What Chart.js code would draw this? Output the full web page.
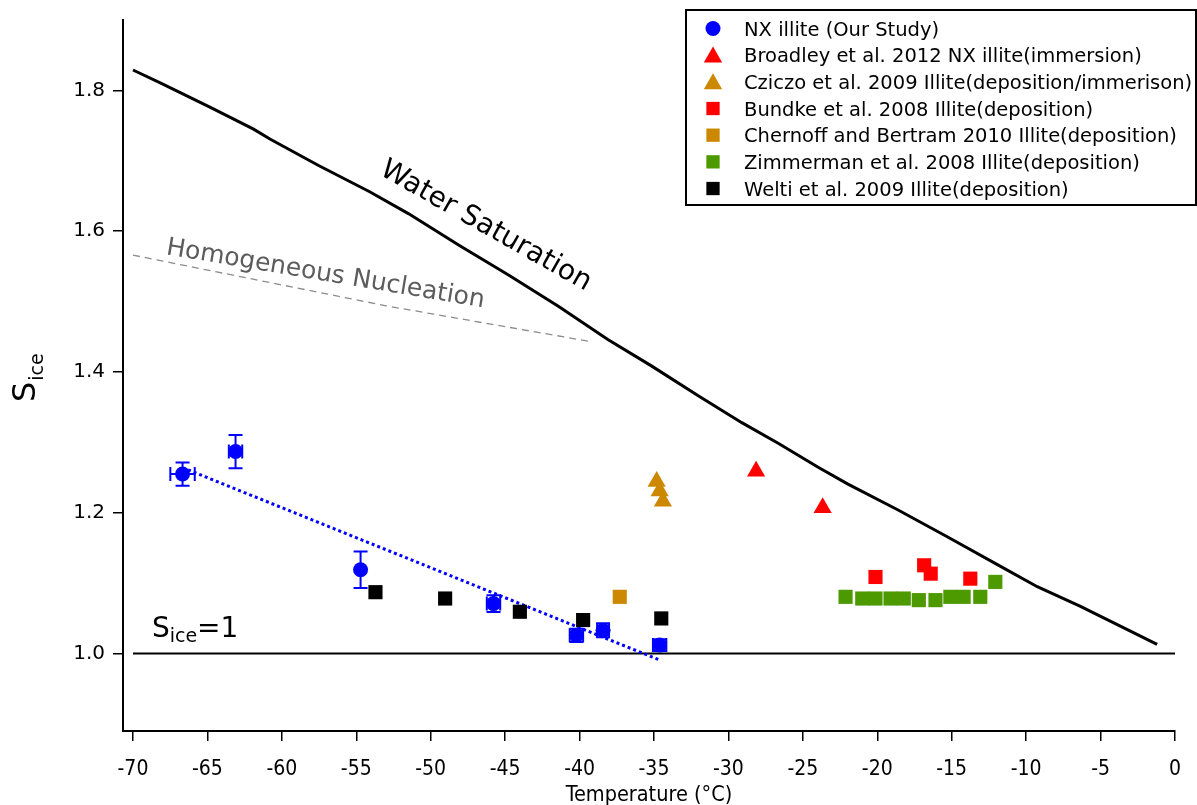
<!DOCTYPE html>
<html>
<head>
<meta charset="utf-8">
<title>Ice nucleation onset on illite</title>
<script src="https://cdn.jsdelivr.net/npm/chart.js@4.4.1/dist/chart.umd.min.js"></script>
<style>
  html, body { margin: 0; padding: 0; background: #ffffff; }
  #wrap { width: 1197px; height: 805px; position: relative; }
</style>
</head>
<body>
<div id="wrap"><canvas id="chart" width="1197" height="805"></canvas></div>
<script>
// ---- axis ticks ----
const tempTicks = [-70, -65, -60, -55, -50, -45, -40, -35, -30, -25, -20, -15, -10, -5, 0];
const sIceTicks = [1.0, 1.2, 1.4, 1.6, 1.8];

// ---- reference curves ----
const waterSatT = [-70.0, -68.2, -64.8, -61.9, -60.8, -57.5, -54.1, -51.5, -48.1, -44.8, -41.4, -38.1, -35.2, -32.0, -29.1, -26.6, -24.0, -22.0, -18.6, -15.3, -11.9, -9.25, -6.35, -3.2, -1.2];
const waterSatS = [1.829, 1.811, 1.776, 1.745, 1.731, 1.693, 1.656, 1.625, 1.580, 1.538, 1.493, 1.446, 1.409, 1.366, 1.328, 1.298, 1.265, 1.241, 1.204, 1.166, 1.126, 1.095, 1.067, 1.034, 1.013];
const homNucT = [-70.0, -53.0, -39.2];
const homNucS = [1.566, 1.494, 1.443];
const unityT = [-70, 0];
const unityS = [1, 1];

// ---- NX illite (this study) with uncertainties ----
const nxT    = [-66.67, -63.11, -54.71, -45.78, -40.21, -38.42, -34.62];
const nxS    = [1.255, 1.287, 1.119, 1.071, 1.026, 1.033, 1.012];
const nxErrS = [0.0165, 0.0236, 0.026, 0.0118, 0.0094, 0.0099, 0.0082];
const nxErrT = [0.82, 0.45, 0, 0.45, 0.45, 0.4, 0.45];
const nxFitT = [-66.3, -34.7];
const nxFitS = [1.261, 0.9915];

// ---- literature data ----
const broadleyT   = [-28.14, -23.67];
const broadleyS   = [1.259, 1.207];
const cziczoT     = [-34.82, -34.62, -34.40];
const cziczoS     = [1.2445, 1.231, 1.2164];
const bundkeT     = [-20.12, -16.85, -16.41, -13.75];
const bundkeS     = [1.1088, 1.1254, 1.1135, 1.1064];
const chernoffT   = [-37.30];
const chernoffS   = [1.0806];
const zimmermanT  = [-22.13, -21.01, -20.12, -19.11, -18.22, -17.21, -16.09, -15.09, -14.20, -13.08, -12.07];
const zimmermanS  = [1.0806, 1.0782, 1.0782, 1.0782, 1.0782, 1.0759, 1.0759, 1.0806, 1.0806, 1.0806, 1.1018];
const weltiT      = [-53.71, -49.03, -44.01, -39.76, -34.51];
const weltiS      = [1.0872, 1.0782, 1.0594, 1.0476, 1.0499];

const BLUE = '#0000ff', RED = '#ff0000', ORANGE = '#cc8800', GREEN = '#4c9900', BLACK = '#000000';
const FONT = '"DejaVu Sans", "Lucida Grande", Verdana, sans-serif';
const NARROW = '"Liberation Sans Narrow", "DejaVu Sans Condensed", "Arial Narrow", sans-serif';

const pts = (xs, ys) => xs.map((x, i) => ({ x: x, y: ys[i] }));

function markers(label, xs, ys, color, style, radius) {
  return {
    label: label, data: pts(xs, ys), showLine: false,
    pointStyle: style, pointRadius: radius, pointHoverRadius: radius,
    backgroundColor: color, borderColor: color, borderWidth: 0,
    inLegend: true
  };
}
function curve(label, xs, ys, color, width, dash) {
  return {
    label: label, data: pts(xs, ys), showLine: true, pointRadius: 0, pointHoverRadius: 0,
    borderColor: color, borderWidth: width, borderDash: dash || [], fill: false, tension: 0,
    inLegend: false
  };
}

const datasets = [
  Object.assign(markers('NX illite (Our Study)', nxT, nxS, BLUE, 'circle', 7.5), { errS: nxErrS, errT: nxErrT }),
  markers('Broadley et al. 2012 NX illite(immersion)', broadleyT, broadleyS, RED, 'triangle', 10.5),
  markers('Cziczo et al. 2009 Illite(deposition/immerison)', cziczoT, cziczoS, ORANGE, 'triangle', 10.5),
  markers('Bundke et al. 2008 Illite(deposition)', bundkeT, bundkeS, RED, 'rect', 10),
  markers('Chernoff and Bertram 2010 Illite(deposition)', chernoffT, chernoffS, ORANGE, 'rect', 10),
  markers('Zimmerman et al. 2008 Illite(deposition)', zimmermanT, zimmermanS, GREEN, 'rect', 10),
  markers('Welti et al. 2009 Illite(deposition)', weltiT, weltiS, BLACK, 'rect', 10),
  curve('NX illite fit', nxFitT, nxFitS, BLUE, 3, [3, 3]),
  curve('Water Saturation', waterSatT, waterSatS, BLACK, 3),
  curve('Homogeneous Nucleation', homNucT, homNucS, '#8c8c8c', 1.3, [7, 5]),
  curve('Sice=1', unityT, unityS, BLACK, 2)
];

// error bars for datasets that carry errS / errT
const errorBars = {
  id: 'errorBars',
  afterDatasetsDraw(chart) {
    const ctx = chart.ctx, xs = chart.scales.x, ys = chart.scales.y;
    chart.data.datasets.forEach(ds => {
      if (!ds.errS) return;
      ctx.save();
      ctx.strokeStyle = ds.borderColor;
      ctx.lineWidth = 2;
      ds.data.forEach((p, i) => {
        const px = xs.getPixelForValue(p.x), py = ys.getPixelForValue(p.y);
        const cap = 7;
        if (ds.errS[i] > 0) {
          const y1 = ys.getPixelForValue(p.y + ds.errS[i]);
          const y2 = ys.getPixelForValue(p.y - ds.errS[i]);
          ctx.beginPath();
          ctx.moveTo(px, y1); ctx.lineTo(px, y2);
          ctx.moveTo(px - cap, y1); ctx.lineTo(px + cap, y1);
          ctx.moveTo(px - cap, y2); ctx.lineTo(px + cap, y2);
          ctx.stroke();
        }
        if (ds.errT[i] > 0) {
          const x1 = xs.getPixelForValue(p.x - ds.errT[i]);
          const x2 = xs.getPixelForValue(p.x + ds.errT[i]);
          ctx.beginPath();
          ctx.moveTo(x1, py); ctx.lineTo(x2, py);
          ctx.moveTo(x1, py - cap); ctx.lineTo(x1, py + cap);
          ctx.moveTo(x2, py - cap); ctx.lineTo(x2, py + cap);
          ctx.stroke();
        }
      });
      ctx.restore();
    });
  }
};

// text labels on the plot and axis titles
const annotations = {
  id: 'annotations',
  afterDraw(chart) {
    const ctx = chart.ctx, xs = chart.scales.x, ys = chart.scales.y, area = chart.chartArea;
    ctx.save();

    // Water Saturation
    ctx.save();
    ctx.translate(xs.getPixelForValue(-46.54), ys.getPixelForValue(1.598));
    ctx.rotate(29.5 * Math.PI / 180);
    ctx.font = '28px ' + FONT;
    ctx.fillStyle = '#000';
    ctx.textAlign = 'center';
    ctx.textBaseline = 'alphabetic';
    ctx.fillText('Water Saturation', 0, 0);
    ctx.restore();

    // Homogeneous Nucleation
    ctx.save();
    ctx.translate(xs.getPixelForValue(-57.14), ys.getPixelForValue(1.5296));
    ctx.rotate(9.5 * Math.PI / 180);
    ctx.font = '25px ' + FONT;
    ctx.fillStyle = '#5c5c5c';
    ctx.textAlign = 'center';
    ctx.textBaseline = 'alphabetic';
    ctx.fillText('Homogeneous Nucleation', 0, 0);
    ctx.restore();

    // S_ice = 1
    ctx.fillStyle = '#000';
    ctx.textAlign = 'left';
    ctx.textBaseline = 'alphabetic';
    let x0 = xs.getPixelForValue(-68.73), y0 = ys.getPixelForValue(1.024);
    ctx.font = '28px ' + FONT;
    ctx.fillText('S', x0, y0);
    x0 += ctx.measureText('S').width;
    ctx.font = '19px ' + FONT;
    ctx.fillText('ice', x0, y0 + 5);
    x0 += ctx.measureText('ice').width;
    ctx.font = '28px ' + FONT;
    ctx.fillText('=1', x0, y0);

    // y-axis title S_ice (rotated)
    ctx.save();
    ctx.translate(35, 402);
    ctx.rotate(-Math.PI / 2);
    ctx.font = '32px ' + FONT;
    ctx.fillText('S', 0, 0);
    const sw = ctx.measureText('S').width;
    ctx.font = '19px ' + FONT;
    ctx.fillText('ice', sw + 1, 8);
    ctx.restore();

    // x-axis title
    ctx.font = '21.5px ' + NARROW;
    ctx.textAlign = 'center';
    ctx.textBaseline = 'middle';
    ctx.fillText('Temperature (°C)', (area.left + area.right) / 2, 795);

    ctx.restore();
  }
};

// boxed legend in the upper right
const legendBox = {
  id: 'legendBox',
  afterDraw(chart) {
    const ctx = chart.ctx;
    const items = chart.data.datasets.filter(d => d.inLegend);
    const left = 686, top = 10, right = 1196, bottom = 205;
    ctx.save();
    ctx.fillStyle = '#fff';
    ctx.fillRect(left, top, right - left, bottom - top);
    ctx.strokeStyle = '#000';
    ctx.lineWidth = 2;
    ctx.strokeRect(left, top, right - left, bottom - top);
    ctx.font = '19.5px ' + FONT;
    ctx.textAlign = 'left';
    ctx.textBaseline = 'alphabetic';
    items.forEach((d, i) => {
      const cy = 28.5 + i * 26.67;
      const r = d.pointStyle === 'circle' ? 7.5 : (d.pointStyle === 'triangle' ? 10.6 : 9.4);
      const yOff = d.pointStyle === 'triangle' ? 2 : 0;
      ctx.fillStyle = d.backgroundColor;
      ctx.strokeStyle = d.borderColor;
      Chart.helpers.drawPoint(ctx, { pointStyle: d.pointStyle, radius: r, rotation: 0, borderWidth: 0 }, 713, cy + yOff);
      ctx.fillStyle = '#000';
      ctx.fillText(d.label, 744, cy + 7.3);
    });
    ctx.restore();
  }
};

new Chart(document.getElementById('chart').getContext('2d'), {
  type: 'scatter',
  data: { datasets: datasets },
  options: {
    responsive: false,
    animation: false,
    devicePixelRatio: 1,
    layout: { padding: { top: 17, right: 20, left: 0, bottom: 0 } },
    plugins: { legend: { display: false }, tooltip: { enabled: false } },
    scales: {
      x: {
        type: 'linear', position: 'bottom', min: -70.67, max: 0,
        afterBuildTicks: s => { s.ticks = tempTicks.map(v => ({ value: v })); },
        afterFit: s => { s.height = 74; },
        grid: { display: true, drawOnChartArea: false, drawTicks: true, tickLength: 10, color: '#000', lineWidth: 1.5 },
        border: { display: true, color: '#000', width: 2 },
        ticks: { color: '#000', font: { family: NARROW, size: 21 }, padding: 16, maxRotation: 0, autoSkip: false,
                 callback: v => String(v) }
      },
      y: {
        type: 'linear', position: 'left', min: 0.89, max: 1.9,
        afterBuildTicks: s => { s.ticks = sIceTicks.map(v => ({ value: v })); },
        afterFit: s => { s.width = 123; },
        grid: { display: true, drawOnChartArea: false, drawTicks: true, tickLength: 10, color: '#000', lineWidth: 1.5 },
        border: { display: true, color: '#000', width: 2 },
        ticks: { color: '#000', font: { family: FONT, size: 20 }, padding: 8, autoSkip: false,
                 callback: v => Number(v).toFixed(1) }
      }
    }
  },
  plugins: [errorBars, annotations, legendBox]
});
</script>
</body>
</html>
